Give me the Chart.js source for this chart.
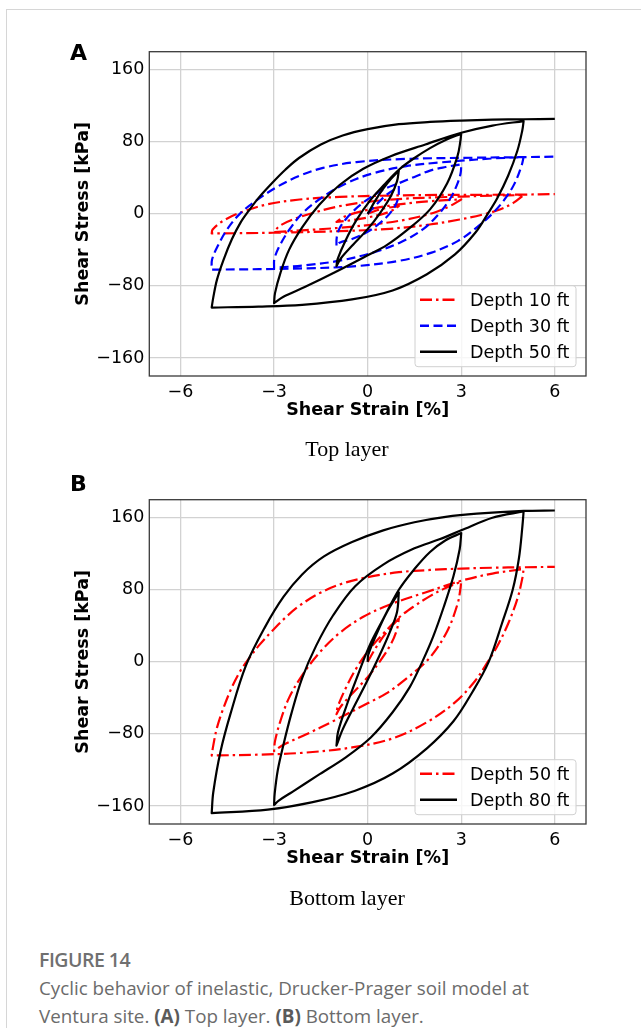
<!DOCTYPE html>
<html><head><meta charset="utf-8">
<script src="https://cdn.jsdelivr.net/npm/chart.js@4.4.1/dist/chart.umd.min.js"></script>
<style>
html,body{margin:0;padding:0;background:#fff;}
body{width:641px;height:1028px;position:relative;overflow:hidden;}
.card-top{position:absolute;left:6px;top:9px;width:640px;height:0;border-top:1px solid #d6d6d6;}
.card-left{position:absolute;left:6px;top:9px;width:0;height:1030px;border-left:1px solid #d6d6d6;}
.panel{position:absolute;left:0;width:641px;height:440px;}
.letter{position:absolute;left:70px;font:bold 22px "DejaVu Sans";line-height:22px;color:#000;}
.sub{position:absolute;left:0;width:694px;text-align:center;font:22px "Liberation Serif";line-height:22px;color:#000;}
.figt{position:absolute;left:39px;top:950px;font:600 19.5px "Open Sans";line-height:19px;color:#707070;letter-spacing:-0.5px;}
.cap{position:absolute;left:39px;top:974px;width:600px;font:18.8px "Open Sans";line-height:28px;color:#6b6b6b;white-space:nowrap;}
.cap b{font-weight:700;color:#5a5a5a;}
</style></head>
<body>
<div class="card-top"></div><div class="card-left"></div>
<div class="panel" style="top:0px"><canvas id="cA" width="641" height="440"></canvas></div>
<div class="panel" style="top:448.3px"><canvas id="cB" width="641" height="440"></canvas></div>
<div class="letter" style="top:42px">A</div>
<div class="letter" style="top:473px">B</div>
<div class="sub" style="top:438px">Top layer</div>
<div class="sub" style="top:887px">Bottom layer</div>
<div class="figt">FIGURE 14</div>
<div class="cap">Cyclic behavior of inelastic, Drucker-Prager soil model at<br>Ventura site. <b>(A)</b> Top layer. <b>(B)</b> Bottom layer.</div>
<script>
// ---- axis ticks ----
const xTicks = [-6, -3, 0, 3, 6];
const yTicks = [-160, -80, 0, 80, 160];
const labelsA = ['Depth 10 ft', 'Depth 30 ft', 'Depth 50 ft'];
const labelsB = ['Depth 50 ft', 'Depth 80 ft'];

// ---- Depth 10 ft (top layer) : branches of strain [%] / stress [kPa] ----
const depth10Strain = [
  [0, 0.3, 0.6, 1],
  [1, 0.8, 0.5, 0, -0.5, -1],
  [-1, -0.8, -0.5, 0, 0.5, 1, 1.5, 2, 2.5, 3],
  [3, 2.63, 2.1, 1.24, 0.17, -0.9, -1.97, -3],
  [-3, -2.83, -2.4, -1.76, -0.9, 0.17, 1.24, 2.31, 3, 4, 5],
  [5, 4.67, 4.24, 3.7, 2.95, 1.99, 0.71, -0.9, -3.04, -5],
  [-5, -4.97, -4.65, -4.11, -3.25, -2.18, -0.9, 0.71, 2.31, 5, 6]
];
const depth10Stress = [
  [0, 4, 6.5, 8.5],
  [8.5, 4, 0, -4, -7, -9],
  [-9, -4, 0, 4.5, 8, 10.5, 12.5, 14, 15.2, 16],
  [16, 8.5, 1, -6.3, -11.8, -15.5, -18, -20.3],
  [-20.3, -13.6, -6.3, 1, 8.5, 14, 17, 18.4, 19.2, 20.2, 20.8],
  [20.8, 12.2, 4.8, -0.7, -6.3, -11.8, -16.6, -19.2, -21, -21.8],
  [-21.8, -17.3, -8.1, 1, 10.3, 15.9, 18.8, 20.3, 21, 21.4, 22]
];

// ---- Depth 30 ft (top layer) ----
const depth30Strain = [
  [0, 0.3, 0.6, 1],
  [1, 0.99, 0.9, 0.7, 0.4, 0, -0.5, -0.9, -1],
  [-1, -0.99, -0.9, -0.7, -0.4, 0, 0.5, 1, 1.5, 2, 2.5, 3],
  [3, 2.98, 2.85, 2.63, 2.31, 1.78, 1.03, 0.17, -0.9, -1.97, -3],
  [-3, -2.99, -2.83, -2.5, -2.08, -1.43, -0.68, 0.17, 1.24, 2.31, 3, 4, 5],
  [5, 4.93, 4.7, 4.39, 4.02, 3.5, 2.9, 2.05, 1.03, -0.36, -1.97, -5],
  [-5, -4.99, -4.81, -4.5, -4.1, -3.6, -2.9, -2.2, -1.43, -0.36, 1.24, 3.38, 5, 6]
];
const depth30Stress = [
  [0, 11, 21, 30],
  [30, 20, 10, 0, -10, -20, -28, -32, -36],
  [-36, -26, -16, -6, 5, 16, 27, 34, 41, 48, 52, 55],
  [55, 45, 31, 16, 1, -17, -32, -43, -52, -57, -60],
  [-60, -50, -36, -17, 1, 19, 34, 45, 53, 57, 59, 61.5, 63],
  [63, 53, 33, 16, 1, -15, -30, -43, -52, -58, -60.5, -62],
  [-62, -51, -36, -17, 0, 14, 30, 42, 51, 57.5, 61, 62.3, 63, 63.5]
];

// ---- Depth 50 ft (top layer, also shown in bottom layer) ----
const depth50Strain = [
  [0, 0.25, 0.5, 0.75, 1],
  [1, 0.94, 0.75, 0.42, 0, -0.46, -0.85, -1],
  [-1, -0.96, -0.7, -0.36, 0.08, 0.52, 1, 1.5, 2, 2.5, 3],
  [3, 2.97, 2.88, 2.55, 2.0, 1.3, 0.6, 0, -1, -2, -2.7, -3],
  [-3, -2.97, -2.8, -2.52, -2.1, -1.55, -0.9, -0.14, 0.74, 1.85, 3, 4, 5],
  [5, 4.96, 4.8, 4.5, 4.15, 3.85, 3.45, 2.8, 1.9, 0.8, -0.5, -2.1, -3.5, -5],
  [-5, -4.95, -4.83, -4.62, -4.35, -4.08, -3.82, -3.49, -3.07, -2.64, -2.2, -1.5, -0.8, 0, 1, 2, 3, 4, 5, 6]
];
const depth50Stress = [
  [0, 15, 28, 39, 48],
  [48, 36, 20, 2, -17, -34, -49, -58],
  [-58, -50, -29, -7, 15, 32, 49, 62, 73, 82, 89],
  [89, 80, 64, 34, 5, -17, -35, -46, -64, -81, -92, -99],
  [-99, -88, -66, -40, -15, 10, 32, 50, 64, 77, 90, 98, 103],
  [103, 93, 70, 42, 17, 0, -21, -45, -67, -85, -95, -101, -103, -104],
  [-104, -93, -73, -51, -28, -10, 3, 18, 34, 49, 62, 77, 87, 94, 99.5, 102, 103.5, 104.5, 105, 105.5]
];

// ---- Depth 80 ft (bottom layer) ----
const depth80Strain = [
  [0, 0.02, 0.3, 0.6, 1],
  [1, 0.94, 0.71, 0.38, -0.04, -0.47, -0.8, -1],
  [-1, -0.95, -0.68, -0.36, 0.06, 0.49, 1, 1.5, 2, 2.5, 3],
  [3, 2.95, 2.75, 2.45, 2.1, 1.75, 1.35, 0.8, 0.1, -0.7, -1.6, -2.4, -2.85, -3],
  [-3, -2.98, -2.88, -2.7, -2.45, -2.1, -1.65, -1.1, -0.4, 0.5, 1.5, 2.3, 3, 4, 5],
  [5, 4.96, 4.85, 4.65, 4.3, 3.88, 3.35, 2.75, 1.9, 0.8, -0.4, -1.8, -3.2, -5],
  [-5, -4.95, -4.72, -4.4, -3.9, -3.3, -2.7, -2.1, -1.4, -0.5, 0.5, 1.5, 2.5, 3.5, 5, 6]
];
const depth80Stress = [
  [0, 8, 32, 54, 77],
  [77, 55, 33, 7, -23, -52, -75, -93],
  [-93, -78, -49, -19, 18, 47, 80, 103, 122, 135, 143],
  [143, 125, 95, 62, 28, 0, -28, -56, -84, -106, -126, -144, -154, -159],
  [-159, -146, -120, -92, -58, -18, 18, 52, 84, 108, 126, 136, 146, 160, 167],
  [167, 150, 115, 80, 42, 0, -34, -66, -96, -124, -143, -156, -164, -168],
  [-168, -145, -100, -58, -4, 38, 72, 97, 117, 133, 146, 155, 161, 164.5, 167.5, 168]
];

// ---- helpers ----
function toPoints(strainBranches, stressBranches) {
  const pts = [];
  strainBranches.forEach((bx, i) => bx.forEach((x, j) => pts.push({x: x, y: stressBranches[i][j]})));
  return pts;
}
const STY = {
  red:   {color: '#ff0000', dash: [12, 4, 2.5, 4]},
  blue:  {color: '#0000ff', dash: [9, 4.5]},
  black: {color: '#000000', dash: []}
};
function ds(label, pts, sty, order, li) {
  return {label: label, data: pts, showLine: true, borderColor: sty.color, backgroundColor: sty.color,
    borderDash: sty.dash, borderWidth: 2.2, pointRadius: 0, pointHoverRadius: 0, tension: 0.35,
    fill: false, order: order, legendIndex: li, borderCapStyle: 'butt', borderJoinStyle: 'round'};
}
const fmt = v => (v < 0 ? '\u2212' + Math.abs(v) : String(v));
const FONT = 'DejaVu Sans';
const FS = 17.5;

const frameLegend = {
  id: 'frameLegend',
  afterDraw(chart) {
    const {ctx, chartArea: a} = chart;
    ctx.save();
    ctx.setLineDash([]);
    ctx.strokeStyle = '#3a3a3a'; ctx.lineWidth = 1.3;
    ctx.strokeRect(a.left, a.top, a.right - a.left, a.bottom - a.top);
    const items = chart.data.datasets.slice().sort((p, q) => p.legendIndex - q.legendIndex);
    const n = items.length;
    const boxW = 161, boxH = 29 + (n - 1) * 26;
    const boxR = a.right - 10, boxB = a.bottom - 9.3;
    const boxL = boxR - boxW, boxT = boxB - boxH, r = 3;
    ctx.beginPath();
    ctx.moveTo(boxL + r, boxT); ctx.lineTo(boxR - r, boxT); ctx.quadraticCurveTo(boxR, boxT, boxR, boxT + r);
    ctx.lineTo(boxR, boxB - r); ctx.quadraticCurveTo(boxR, boxB, boxR - r, boxB);
    ctx.lineTo(boxL + r, boxB); ctx.quadraticCurveTo(boxL, boxB, boxL, boxB - r);
    ctx.lineTo(boxL, boxT + r); ctx.quadraticCurveTo(boxL, boxT, boxL + r, boxT); ctx.closePath();
    ctx.fillStyle = 'rgba(255,255,255,0.8)'; ctx.fill();
    ctx.strokeStyle = '#d0d0d0'; ctx.lineWidth = 1; ctx.stroke();
    items.forEach((d, i) => {
      const cy = boxT + 14 + i * 26;
      ctx.beginPath(); ctx.setLineDash(d.borderDash); ctx.lineWidth = 2.4; ctx.strokeStyle = d.borderColor;
      ctx.moveTo(boxL + 5, cy); ctx.lineTo(boxL + 42, cy); ctx.stroke();
      ctx.setLineDash([]);
      ctx.fillStyle = '#000'; ctx.font = FS + 'px "' + FONT + '"'; ctx.textBaseline = 'alphabetic'; ctx.textAlign = 'left';
      ctx.fillText(d.label, boxL + 55, cy + 6.5);
    });
    ctx.restore();
  }
};

function options() {
  return {
    responsive: false, animation: false, devicePixelRatio: 1,
    layout: {padding: {left: 60, right: 55, top: 51.7, bottom: 0}},
    plugins: {legend: {display: false}, tooltip: {enabled: false}},
    scales: {
      x: {type: 'linear', min: -7, max: 7,
        afterBuildTicks: s => { s.ticks = xTicks.map(v => ({value: v})); },
        afterFit: s => { s.height = 64; },
        grid: {color: '#d2d2d2', lineWidth: 1.3, drawTicks: false},
        border: {display: false},
        ticks: {padding: 6, color: '#000', font: {family: FONT, size: FS}, callback: fmt, maxRotation: 0, autoSkip: false},
        title: {display: true, text: 'Shear Strain [%]', color: '#000', font: {family: FONT, size: FS, weight: 'bold'}, padding: {top: 0, bottom: 19.5}}
      },
      y: {type: 'linear', min: -180, max: 180,
        afterBuildTicks: s => { s.ticks = yTicks.map(v => ({value: v})); },
        afterFit: s => { s.width = 89.3; },
        grid: {color: '#d2d2d2', lineWidth: 1.3, drawTicks: false},
        border: {display: false},
        ticks: {padding: 5, color: '#000', font: {family: FONT, size: FS}, callback: fmt, autoSkip: false},
        title: {display: true, text: 'Shear Stress [kPa]', color: '#000', font: {family: FONT, size: FS, weight: 'bold'}, padding: {top: 13, bottom: 0}}
      }
    }
  };
}

new Chart(document.getElementById('cA'), {
  type: 'scatter',
  data: {datasets: [
    ds(labelsA[0], toPoints(depth10Strain, depth10Stress), STY.red, 2, 0),
    ds(labelsA[1], toPoints(depth30Strain, depth30Stress), STY.blue, 1, 1),
    ds(labelsA[2], toPoints(depth50Strain, depth50Stress), STY.black, 0, 2)
  ]},
  options: options(),
  plugins: [frameLegend]
});
new Chart(document.getElementById('cB'), {
  type: 'scatter',
  data: {datasets: [
    ds(labelsB[0], toPoints(depth50Strain, depth50Stress), STY.red, 1, 0),
    ds(labelsB[1], toPoints(depth80Strain, depth80Stress), STY.black, 0, 1)
  ]},
  options: options(),
  plugins: [frameLegend]
});
</script>
</body></html>
